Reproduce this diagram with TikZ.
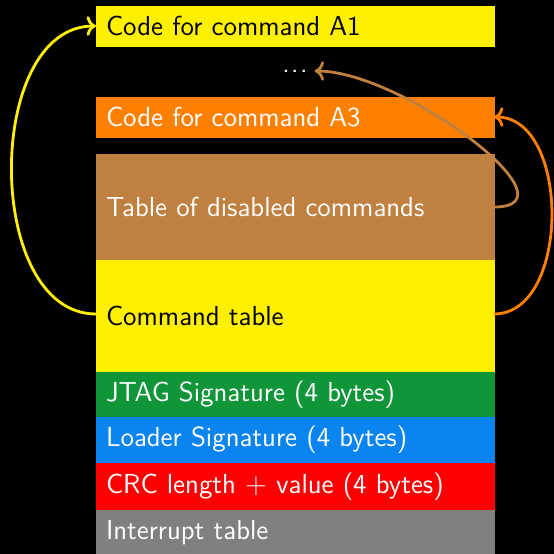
\documentclass[tikz,border=0pt]{standalone}
\usepackage{fontspec}
\usepackage{tikz}
\usetikzlibrary{arrows.meta,positioning}
\definecolor{MemYellow}{HTML}{FFF000}
\definecolor{MemOrange}{HTML}{FF8000}
\definecolor{MemBrown}{HTML}{BF8040}
\definecolor{MemGreen}{HTML}{109539}
\definecolor{MemBlue}{HTML}{0A84F0}
\definecolor{MemRed}{HTML}{FF0000}
\definecolor{MemGray}{HTML}{808080}

\begin{document}
\begin{tikzpicture}[x=0.5pt,y=0.5pt,
  blk/.style={rectangle,fill=#1,draw=#1,line width=0.3pt,outer sep=0pt,
    minimum width=199pt,text width=189pt,
    inner xsep=5pt,inner ysep=0pt,align=left,text=white,
    font=\fontsize{13.75}{16}\selectfont\sffamily},
  flow/.style={#1,line width=1.4pt,->}]
  \fill[black] (0,0) rectangle (554,554);
  \useasboundingbox (0,0) rectangle (554,554);
  % memory layout, top to bottom
  \node[blk=MemYellow,text=black,minimum height=20pt,anchor=north west] (a1) at (96,548) {Code for command A1};
  \node[text=white,font=\fontsize{13.75}{16}\selectfont\sffamily] (dots) at (295,483) {.\kern0.7pt.\kern0.7pt.};
  \node[blk=MemOrange,minimum height=20pt,anchor=north west] (a3) at (96,457) {Code for command A3};
  \node[blk=MemBrown,minimum height=53pt,below=8.5pt of a3] (dis) {Table of disabled commands};
  \node[blk=MemYellow,text=black,minimum height=56pt,below=0pt of dis] (cmd) {Command table};
  \node[blk=MemGreen,minimum height=22.5pt,below=0pt of cmd] (jtag) {JTAG Signature (4 bytes)};
  \node[blk=MemBlue,minimum height=23pt,below=0pt of jtag] (ldr) {Loader Signature (4 bytes)};
  \node[blk=MemRed,minimum height=23.5pt,below=0pt of ldr] (crc) {CRC length $+$ value (4 bytes)};
  \node[blk=MemGray,minimum height=23pt,below=0pt of crc] (irq) {Interrupt table};
  % pointers
  \draw[flow=MemYellow] ([yshift=1pt]cmd.west) to[out=180,in=180] (a1.west);
  \draw[flow=MemOrange] ([yshift=1pt]cmd.east) to[out=0,in=0] (a3.east);
  \draw[flow=MemBrown] (dis.east) to[out=0,in=0] (dots.east);
\end{tikzpicture}
\end{document}
